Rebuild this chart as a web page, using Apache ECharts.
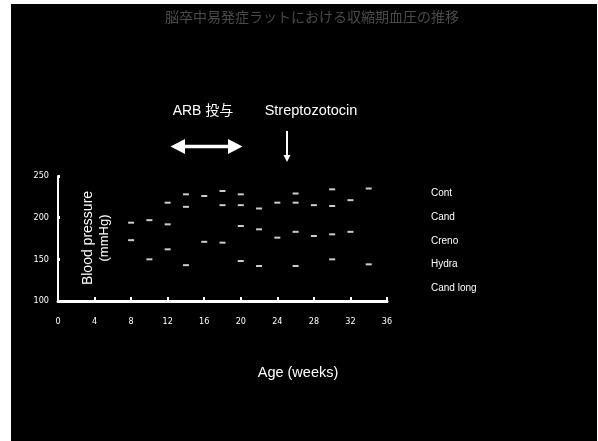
<!DOCTYPE html>
<html><head><meta charset="utf-8">
<script src="https://cdn.jsdelivr.net/npm/echarts@6/dist/echarts.min.js"></script>
<style>html,body{margin:0;padding:0;background:#fff}#c{width:598px;height:441px}</style>
</head><body><div id="c"></div>
<script>
var titleText = '脳卒中易発症ラットにおける収縮期血圧の推移';
var xTicks = [0, 4, 8, 12, 16, 20, 24, 28, 32, 36];
var yTicks = [100, 150, 200, 250];
var weeks = [8, 10, 12, 14, 16, 18, 20, 22, 24, 26, 28, 30, 32, 34];
var seriesNames = ['Cont', 'Cand', 'Creno', 'Hydra', 'Cand long'];
var cont     = [null, null, 218, 228, 226, 232, 228, null, null, 229, null, 234, null, 235];
var cand     = [null, null, null, 213, null, 215, 215, 211, 218, 218, 215, 214, 221, null];
var creno    = [194, 197, 192, null, null, null, 190, 186, 176, 183, 178, 180, 183, null];
var hydra    = [173, null, 162, null, 171, 170, null, null, null, null, null, null, null, null];
var candLong = [null, 150, null, 143, null, null, 148, 142, null, 142, null, 150, null, 144];
var seriesValues = [cont, cand, creno, hydra, candLong];

function pairs(vals) {
  var out = [];
  for (var i = 0; i < weeks.length; i++) if (vals[i] != null) out.push([weeks[i], vals[i]]);
  return out;
}

var chart = echarts.init(document.getElementById('c'), null, {renderer: 'canvas'});
var narrow = "'Liberation Sans Narrow','DejaVu Sans Condensed','Liberation Sans',sans-serif";
var sans = "'Liberation Sans',Arial,sans-serif";

var option = {
  backgroundColor: '#ffffff',
  animation: false,
  grid: {left: 58, top: 176, width: 329, height: 125},
  xAxis: {
    type: 'value', min: 0, max: 36, interval: 4,
    axisLine: {show: true, lineStyle: {color: '#fff', width: 3}},
    axisTick: {show: true, inside: true, length: 4, lineStyle: {color: '#fff', width: 2}},
    axisLabel: {color: '#fff', fontSize: 9, fontFamily: narrow, margin: 16, customValues: xTicks},
    splitLine: {show: false}
  },
  yAxis: {
    type: 'value', min: 100, max: 250, interval: 50,
    axisLine: {show: true, lineStyle: {color: '#fff', width: 2}},
    axisTick: {show: true, inside: true, length: 2, lineStyle: {color: '#fff', width: 3}},
    axisLabel: {color: '#fff', fontSize: 9, fontFamily: narrow, margin: 9, customValues: yTicks},
    splitLine: {show: false}
  },
  legend: {
    orient: 'vertical', left: 423, top: 182, padding: [4, 5, 4, 5],
    icon: 'none', itemWidth: 0, itemHeight: 14, itemGap: 9.9,
    selectedMode: false,
    textStyle: {color: '#fff', fontSize: 10, fontFamily: sans, padding: [0, 0, 0, -2], lineHeight: 14},
    data: seriesNames
  },
  series: seriesNames.map(function (n, i) {
    return {
      name: n, type: 'scatter', data: pairs(seriesValues[i]),
      symbol: 'rect', symbolSize: [6, 2],
      itemStyle: {color: '#fff'}
    };
  }),
  graphic: [
    {type: 'rect', z: -10, silent: true, shape: {x: 11, y: 4, width: 586, height: 437}, style: {fill: '#000'}},
    {type: 'text', x: 312, y: 17, style: {text: titleText, fill: '#4a4a4a', font: "14px 'Noto Sans CJK JP'", textAlign: 'center', textVerticalAlign: 'middle'}},
    {type: 'text', x: 203, y: 111, style: {text: 'ARB 投与', fill: '#fff', font: "14px 'Liberation Sans','Noto Sans CJK JP'", textAlign: 'center', textVerticalAlign: 'middle'}},
    {type: 'text', x: 311, y: 111, style: {text: 'Streptozotocin', fill: '#fff', font: "14.5px 'Liberation Sans'", textAlign: 'center', textVerticalAlign: 'middle'}},
    {type: 'polygon', shape: {points: [[170.5,146.5],[185,139],[185,144.8],[228,144.8],[228,139],[242.5,146.5],[228,154],[228,148.2],[185,148.2],[185,154]]}, style: {fill: '#fff'}},
    {type: 'line', shape: {x1: 287, y1: 131, x2: 287, y2: 156}, style: {stroke: '#fff', lineWidth: 2}},
    {type: 'polygon', shape: {points: [[283.5,155],[290.5,155],[287,162]]}, style: {fill: '#fff'}},
    {type: 'text', x: 298, y: 373, style: {text: 'Age (weeks)', fill: '#fff', font: "14.5px 'Liberation Sans'", textAlign: 'center', textVerticalAlign: 'middle'}},
    {type: 'text', x: 88, y: 238, rotation: Math.PI / 2, style: {text: 'Blood pressure', fill: '#fff', font: "14px 'Liberation Sans'", textAlign: 'center', textVerticalAlign: 'middle'}},
    {type: 'text', x: 104, y: 238, rotation: Math.PI / 2, style: {text: '(mmHg)', fill: '#fff', font: "13px 'Liberation Sans'", textAlign: 'center', textVerticalAlign: 'middle'}}
  ]
};
chart.setOption(option);
</script>
</body></html>
